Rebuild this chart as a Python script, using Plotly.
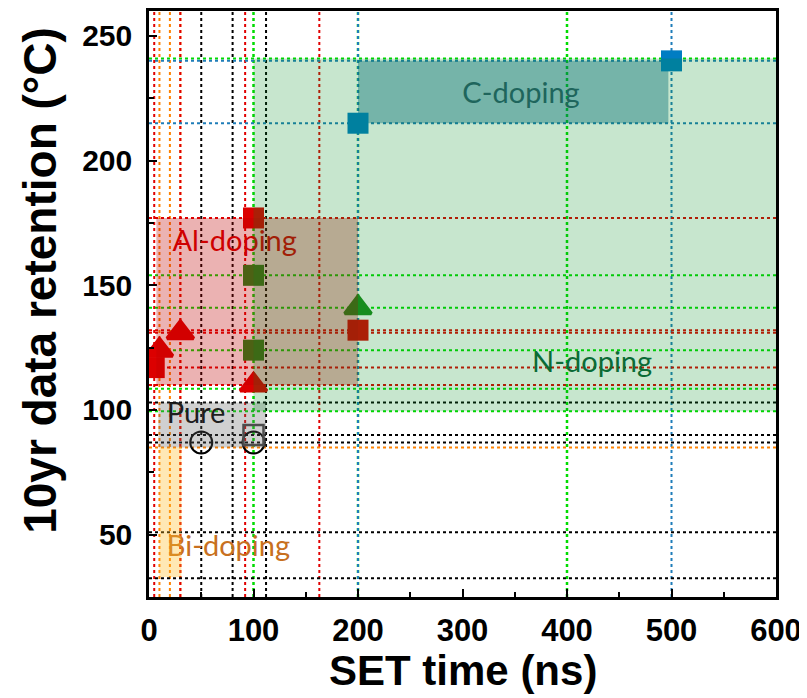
import plotly.graph_objects as go

# ---------------- data ----------------
red_sq_x = [5, 100, 200]
red_sq_y = [117, 177, 132]
red_tri_x = [10, 30, 100]
red_tri_y = [124, 131, 110]
green_sq_x = [100, 100]
green_sq_y = [154, 124]
green_tri_x = [200]
green_tri_y = [141]
blue_sq_x = [200, 500]
blue_sq_y = [215, 240]
pure_circ_x = [50, 100]
pure_circ_y = [87, 87]
pure_sq_x = [100]
pure_sq_y = [90]

# dotted reference lines
v_red = [5, 30, 92, 163]
v_orange = [10, 20, 30]
v_black = [50, 80, 112]
v_green = [100, 200, 400]
v_blue = [200, 500]
h_green = [241, 154, 141, 124, 108.5, 99.5]
h_red = [177, 132, 131, 117, 110]
h_blue = [240, 215]
h_black = [103, 90, 87, 51, 32.5]
h_orange = [85]

# shaded regions
region_names = ["C-doping", "Al-doping", "Pure", "Bi-doping", "N-doping"]
region_x0 = [200, 7, 9, 10, 100]
region_x1 = [497, 200, 112, 31, 600]
region_y0 = [215, 110, 85, 33, 99.5]
region_y1 = [240, 177, 103, 85, 241]
region_fill = ["rgba(0,100,140,0.41)", "rgba(190,0,0,0.30)", "rgba(100,100,100,0.30)",
               "rgba(255,190,40,0.35)", "rgba(0,140,30,0.22)"]

# label texts
label_text = ["C-doping", "Al-doping", "N-doping", "Pure", "Bi-doping"]
label_x = [356, 82, 424, 45, 76]
label_y = [226, 166.5, 118, 97.5, 44.5]
label_color = ["rgb(40,90,110)", "rgb(215,0,0)", "rgb(14,98,60)", "rgb(0,0,0)", "rgb(200,112,32)"]

RED = "rgb(220,0,0)"
GREEN = "rgb(30,140,30)"
BLUE = "rgb(0,125,195)"

fig = go.Figure()

shapes = []
shapes.append(dict(type="rect", xref="x", yref="y", layer="below",
                   x0=region_x0[0], x1=region_x1[0], y0=region_y0[0], y1=region_y1[0],
                   fillcolor=region_fill[0], line=dict(width=0)))

def vl(vals, color, w=2):
    for v in vals:
        shapes.append(dict(type="line", xref="x", yref="paper", layer="below",
                           x0=v, x1=v, y0=0, y1=1,
                           line=dict(color=color, width=w, dash="3px,3px")))

def hl(vals, color, w=2):
    for v in vals:
        shapes.append(dict(type="line", xref="paper", yref="y", layer="below",
                           x0=0, x1=1, y0=v, y1=v,
                           line=dict(color=color, width=w, dash="3px,3px")))

vl(v_black, "black")
vl(v_orange, "rgb(255,130,0)")
vl(v_red, "rgb(225,0,0)")
vl(v_green, "rgb(0,220,0)", 2.5)
vl(v_blue, "rgb(30,125,185)")
hl(h_black, "black")
hl(h_orange, "rgb(255,130,0)")
hl(h_red, "rgb(225,0,0)")
hl(h_green, "rgb(0,220,0)")
hl(h_blue, "rgb(30,125,185)")

for i in [1, 2, 3, 4]:
    shapes.append(dict(type="rect", xref="x", yref="y", layer="above",
                       x0=region_x0[i], x1=region_x1[i], y0=region_y0[i], y1=region_y1[i],
                       fillcolor=region_fill[i], line=dict(width=0)))

fig.add_trace(go.Scatter(x=pure_circ_x, y=pure_circ_y, mode="markers",
                         marker=dict(symbol="circle-open", size=22, color="black",
                                     line=dict(width=2, color="black"))))
fig.add_trace(go.Scatter(x=pure_sq_x, y=pure_sq_y, mode="markers",
                         marker=dict(symbol="square-open", size=20, color="#444444",
                                     line=dict(width=2.5, color="#444444"))))
fig.add_trace(go.Scatter(x=red_sq_x, y=red_sq_y, mode="markers",
                         marker=dict(symbol="square", size=21, color=RED, line=dict(width=0))))
fig.add_trace(go.Scatter(x=green_sq_x, y=green_sq_y, mode="markers",
                         marker=dict(symbol="square", size=21, color=GREEN, line=dict(width=0))))
fig.add_trace(go.Scatter(x=blue_sq_x, y=blue_sq_y, mode="markers",
                         marker=dict(symbol="square", size=21, color=BLUE, line=dict(width=0))))
fig.add_trace(go.Scatter(x=red_tri_x, y=red_tri_y, mode="markers",
                         marker=dict(symbol="triangle-up", size=23, color=RED,
                                     line=dict(width=3.5, color=RED))))
fig.add_trace(go.Scatter(x=green_tri_x, y=green_tri_y, mode="markers",
                         marker=dict(symbol="triangle-up", size=23, color=GREEN,
                                     line=dict(width=3.5, color=GREEN))))

for t, x, y, c in zip(label_text, label_x, label_y, label_color):
    fig.add_trace(go.Scatter(x=[x], y=[y], mode="text", text=[t],
                             textposition="middle center",
                             textfont=dict(family="Lato", size=29, color=c)))

FAM = "Liberation Sans, Arial"
xtick_font = dict(family=FAM, size=31, color="black", weight="bold")
ytick_font = dict(family=FAM, size=30, color="black", weight="bold")

# page has an 8px body margin; figure sized to fit the window
W, H = 799, 690
ML, MR, MT, MB = 141, 31, 3, 101

fig.update_layout(
    width=W, height=H,
    margin=dict(l=ML, r=MR, t=MT, b=MB, autoexpand=False),
    plot_bgcolor="white", paper_bgcolor="white",
    showlegend=False,
    shapes=shapes,
    xaxis=dict(range=[0, 600], tick0=0, dtick=100, ticks="inside", ticklen=8, tickwidth=2,
               tickcolor="black", showline=True, linewidth=2.5, linecolor="black", mirror=True,
               showgrid=False, zeroline=False, tickfont=xtick_font, automargin=False,
               ticklabelstandoff=4,
               minor=dict(dtick=50, tick0=0, ticks="inside", ticklen=5, tickwidth=1.5,
                          tickcolor="black", showgrid=False)),
    yaxis=dict(range=[25, 260], tick0=0, dtick=50, ticks="inside", ticklen=8, tickwidth=2,
               tickcolor="black", showline=True, linewidth=2.5, linecolor="black", mirror=True,
               showgrid=False, zeroline=False, tickfont=ytick_font, automargin=False,
               ticklabelstandoff=8,
               minor=dict(dtick=25, tick0=0, ticks="inside", ticklen=5, tickwidth=1.5,
                          tickcolor="black", showgrid=False)),
    annotations=[
        dict(text="SET time (ns)", xref="paper", yref="paper", x=0.5, y=-0.126,
             xanchor="center", yanchor="middle", showarrow=False,
             font=dict(family=FAM, size=42, color="black", weight="bold")),
        dict(text="10yr data retention (°C)", xref="paper", yref="paper", x=-0.175, y=0.54,
             xanchor="center", yanchor="middle", showarrow=False, textangle=-90,
             font=dict(family=FAM, size=46, color="black", weight="bold")),
    ],
)

fig.write_html("out.html")
